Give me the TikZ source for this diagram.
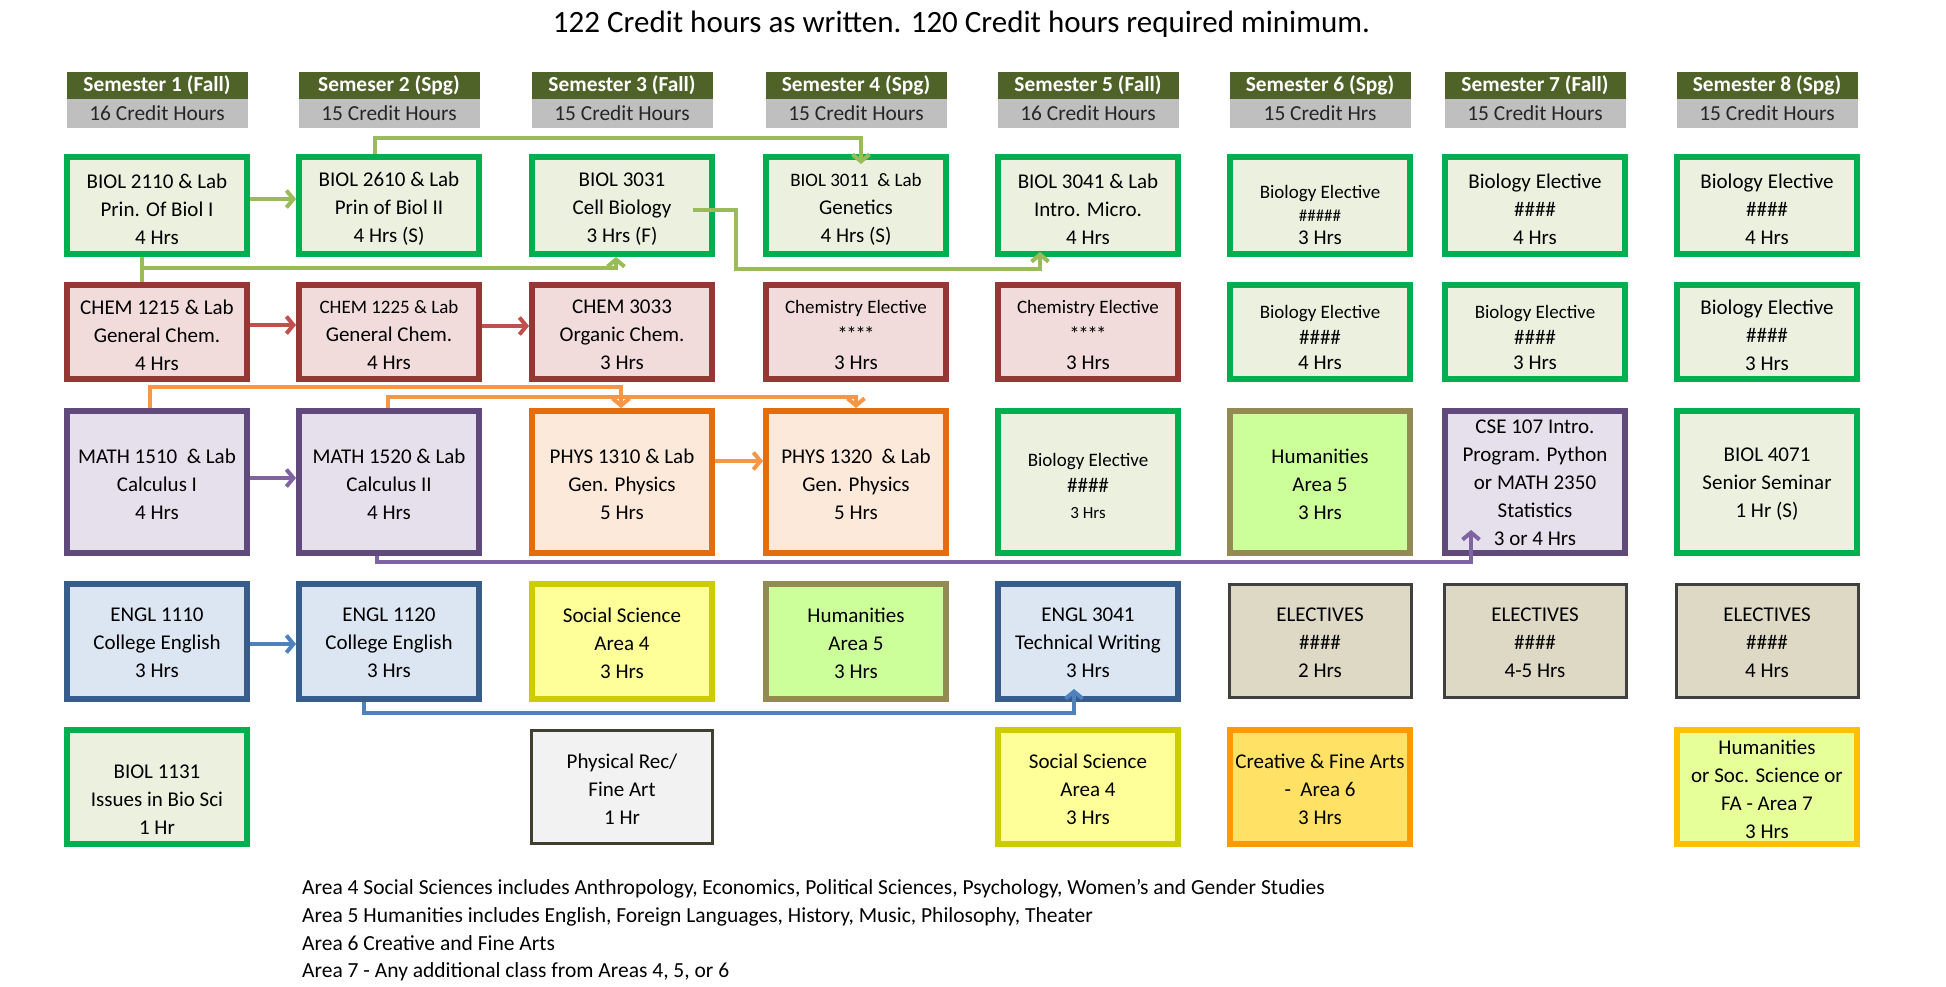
\documentclass[tikz,border=0pt]{standalone}
\usepackage{fontspec}
\setmainfont{Carlito}
\usetikzlibrary{arrows.meta,calc}
\definecolor{hdrD}{HTML}{4F6228}
\definecolor{hdrG}{HTML}{BFBFBF}
\definecolor{bioB}{HTML}{00B050}\definecolor{bioF}{HTML}{EBF1DE}
\definecolor{chemB}{HTML}{953735}\definecolor{chemF}{HTML}{F2DCDB}
\definecolor{mathB}{HTML}{604A7B}\definecolor{mathF}{HTML}{E6E0EC}
\definecolor{physB}{HTML}{E46C0A}\definecolor{physF}{HTML}{FDE9D9}
\definecolor{englB}{HTML}{385D8A}\definecolor{englF}{HTML}{DCE6F2}
\definecolor{socB}{HTML}{CCCC00}\definecolor{socF}{HTML}{FFFF99}
\definecolor{humB}{HTML}{948A54}\definecolor{humF}{HTML}{CCFF99}
\definecolor{elecB}{HTML}{404040}\definecolor{elecF}{HTML}{DDD9C4}
\definecolor{recB}{HTML}{403F30}\definecolor{recF}{HTML}{F2F2F2}
\definecolor{creaB}{HTML}{FF9900}\definecolor{creaF}{HTML}{FFE265}
\definecolor{hsB}{HTML}{FFC000}\definecolor{hsF}{HTML}{E6FF99}
\definecolor{arG}{HTML}{9BBB59}\definecolor{arR}{HTML}{C0504D}
\definecolor{arP}{HTML}{8064A2}\definecolor{arO}{HTML}{F79646}
\definecolor{arB}{HTML}{4F81BD}
\newcommand\crs[8]{%
  \node[#2,minimum width=#5pt,minimum height=#6pt] (#1) at (#3,#4) {};
  \node[txt] (#1t) at ($(#1.center)+(0,#7)$) {#8};}
\newcommand\stars{*\kern-1.5pt*\kern-1.5pt*\kern-1.5pt*}
\begin{document}
\begin{tikzpicture}[x=1pt,y=-1pt,
  txt/.style={align=center,inner sep=0pt,font=\fontsize{21}{28}\selectfont,text=black},
  box/.style={rectangle,inner sep=0pt,line width=6pt},
  bio/.style={box,draw=bioB,fill=bioF},
  chem/.style={box,draw=chemB,fill=chemF},
  math/.style={box,draw=mathB,fill=mathF},
  phys/.style={box,draw=physB,fill=physF},
  engl/.style={box,draw=englB,fill=englF},
  soc/.style={box,draw=socB,fill=socF},
  hum/.style={box,draw=humB,fill=humF},
  elec/.style={box,draw=elecB,fill=elecF,line width=3pt},
  rec/.style={box,draw=recB,fill=recF,line width=3pt},
  crea/.style={box,draw=creaB,fill=creaF},
  hsa/.style={box,draw=hsB,fill=hsF},
  hdrA/.style={rectangle,inner sep=0pt,fill=hdrD,text=white,minimum width=181pt,minimum height=27pt,font=\bfseries\fontsize{21.4}{24}\selectfont},
  hdrB/.style={rectangle,inner sep=0pt,fill=hdrG,text=black!85,minimum width=181pt,minimum height=29pt,font=\fontsize{21.4}{24}\selectfont},
  conn/.style={line width=4pt,-{Straight Barb[length=7pt,width=17pt,line width=4pt]}},
  plain/.style={line width=4pt}]
\useasboundingbox (0,0) rectangle (1946,987);
\fill[white] (0,0) rectangle (1946,987);
% title
\node[inner sep=0pt,font=\fontsize{31}{36}\selectfont] (title) at (961.5,24) {122 Credit hours as written. 120 Credit hours required minimum.};
% headers
\foreach \n/\x/\a/\b in {1/157/Semester 1 (Fall)/16 Credit Hours,2/389/Semeser 2 (Spg)/15 Credit Hours,3/622/Semester 3 (Fall)/15 Credit Hours,4/856/Semester 4 (Spg)/15 Credit Hours,5/1088/Semester 5 (Fall)/16 Credit Hours,6/1320/Semester 6 (Spg)/15 Credit Hrs,7/1535/Semester 7 (Fall)/15 Credit Hours,8/1767/Semester 8 (Spg)/15 Credit Hours}{
  \node[hdrA] (h\n) at (\x,85.5) {\a};
  \node[hdrB] (g\n) at (\x,113.5) {\b};
}
% row 1
\crs{b2110}{bio}{157}{205.5}{180}{97}{3.5}{BIOL 2110 \& Lab\\Prin. Of Biol I\\4 Hrs}
\crs{b2610}{bio}{389}{205.5}{180}{97}{3.5}{BIOL 2610 \& Lab\\Prin of Biol II\\4 Hrs (S)}
\crs{b3031}{bio}{622}{205.5}{180}{97}{3.5}{BIOL 3031\\Cell Biology\\3 Hrs (F)}
\crs{b3011}{bio}{856}{205.5}{180}{97}{3.5}{{\fontsize{19}{28}\selectfont BIOL 3011\ \ \& Lab}\\Genetics\\4 Hrs (S)}
\crs{b3041}{bio}{1088}{205.5}{180}{97}{3.5}{BIOL 3041 \& Lab\\Intro. Micro.\\4 Hrs}
\crs{be61}{bio}{1320}{205.5}{180}{97}{9.5}{\fontsize{19}{28}\selectfont Biology Elective\\[-5pt]\fontsize{17}{28}\selectfont\#\#\#\#\#\\[-5pt]3 Hrs}
\crs{be71}{bio}{1535}{205.5}{180}{97}{3.5}{Biology Elective\\\#\#\#\#\\4 Hrs}
\crs{be81}{bio}{1767}{205.5}{180}{97}{3.5}{Biology Elective\\\#\#\#\#\\4 Hrs}
% row 2
\crs{c1215}{chem}{157}{332}{180}{94}{3}{CHEM 1215 \& Lab\\General Chem.\\4 Hrs}
\crs{c1225}{chem}{389}{332}{180}{94}{3}{{\fontsize{19}{28}\selectfont CHEM 1225 \& Lab}\\General Chem.\\4 Hrs}
\crs{c3033}{chem}{622}{332}{180}{94}{3}{CHEM 3033\\Organic Chem.\\3 Hrs}
\crs{ce4}{chem}{856}{332}{180}{94}{3}{{\fontsize{19}{28}\selectfont Chemistry Elective}\\\stars\\3 Hrs}
\crs{ce5}{chem}{1088}{332}{180}{94}{3}{{\fontsize{19}{28}\selectfont Chemistry Elective}\\\stars\\3 Hrs}
\crs{be62}{bio}{1320}{332}{180}{94}{5.5}{\fontsize{19}{28}\selectfont Biology Elective\\[-2.5pt]\#\#\#\#\\[-2.5pt]4 Hrs}
\crs{be72}{bio}{1535}{332}{180}{94}{5.5}{\fontsize{19}{28}\selectfont Biology Elective\\[-2.5pt]\#\#\#\#\\[-2.5pt]3 Hrs}
\crs{be82}{bio}{1767}{332}{180}{94}{3}{Biology Elective\\\#\#\#\#\\3 Hrs}
% row 3
\crs{m1510}{math}{157}{482}{180}{142}{2}{MATH 1510\ \ \& Lab\\Calculus I\\4 Hrs}
\crs{m1520}{math}{389}{482}{180}{142}{2}{MATH 1520 \& Lab\\Calculus II\\4 Hrs}
\crs{p1310}{phys}{622}{482}{180}{142}{2}{PHYS 1310 \& Lab\\Gen. Physics\\5 Hrs}
\crs{p1320}{phys}{856}{482}{180}{142}{2}{PHYS 1320\ \ \& Lab\\Gen. Physics\\5 Hrs}
\crs{be53}{bio}{1088}{482}{180}{142}{4}{\fontsize{19}{28}\selectfont Biology Elective\\[-2pt]\fontsize{21}{28}\selectfont\#\#\#\#\\[-2pt]\fontsize{17}{28}\selectfont 3 Hrs}
\crs{hum6}{hum}{1320}{482}{180}{142}{2}{Humanities\\Area 5\\3 Hrs}
\crs{cse}{math}{1535}{482}{180}{142}{1}{CSE 107 Intro.\\Program. Python\\or MATH 2350\\Statistics\\3 or 4 Hrs}
\crs{b4071}{bio}{1767}{482}{180}{142}{2}{BIOL 4071\\Senior Seminar\\1 Hr (S)}
% row 4
\crs{e1110}{engl}{157}{641.5}{180}{115}{1.5}{ENGL 1110\\College English\\3 Hrs}
\crs{e1120}{engl}{389}{641.5}{180}{115}{1.5}{ENGL 1120\\College English\\3 Hrs}
\crs{soc3}{soc}{622}{641.5}{180}{115}{1.5}{Social Science\\Area 4\\3 Hrs}
\crs{hum4}{hum}{856}{641.5}{180}{115}{1.5}{Humanities\\Area 5\\3 Hrs}
\crs{e3041}{engl}{1088}{641.5}{180}{115}{1.5}{ENGL 3041\\Technical Writing\\3 Hrs}
\crs{el6}{elec}{1320}{641}{182}{113}{2}{ELECTIVES\\\#\#\#\#\\2 Hrs}
\crs{el7}{elec}{1535}{641}{182}{113}{2}{ELECTIVES\\\#\#\#\#\\4-5 Hrs}
\crs{el8}{elec}{1767}{641}{182}{113}{2}{ELECTIVES\\\#\#\#\#\\4 Hrs}
% row 5
\crs{b1131}{bio}{157}{787}{180}{114}{13}{BIOL 1131\\Issues in Bio Sci\\1 Hr}
\crs{rec}{rec}{622}{787}{181}{113}{2}{Physical Rec/\\Fine Art\\1 Hr}
\crs{soc5}{soc}{1088}{787}{180}{114}{2}{Social Science\\Area 4\\3 Hrs}
\crs{art6}{crea}{1320}{787}{180}{114}{2}{Creative \& Fine Arts\\-\ \ Area 6\\3 Hrs}
\crs{hs8}{hsa}{1767}{787}{180}{114}{2}{Humanities\\or Soc. Science or\\FA - Area 7\\3 Hrs}
% legend
\node[anchor=west,align=left,inner sep=0pt,font=\fontsize{21.5}{27.7}\selectfont] (legend) at (302,930.5)
 {Area 4 Social Sciences includes Anthropology, Economics, Political Sciences, Psychology, Women's and Gender Studies\\
  Area 5 Humanities includes English, Foreign Languages, History, Music, Philosophy, Theater\\
  Area 6 Creative and Fine Arts\\
  Area 7 - Any additional class from Areas 4, 5, or 6};
% connectors: green
\draw[conn,arG] ([yshift=6.5pt]b2110.east) -- ([yshift=6.5pt]b2610.west);
\draw[conn,arG] ([xshift=-14pt]b2610.north) -- ++(0,-16) -| ([xshift=5pt,yshift=-10pt]b3011.north);
\draw[plain,arG] ([xshift=-15pt]b2110.south) -- ([xshift=-15pt]c1215.north);
\draw[conn,arG] ([xshift=-15pt]b2110.south) -- ++(0,11) -| ([xshift=-6pt]b3031.south);
\draw[conn,arG] ([xshift=-22pt,yshift=-4.5pt]b3031.east) -- ++(43,0) -- ++(0,59) -| ([xshift=-48pt,yshift=5pt]b3041.south);
% red
\draw[conn,arR] ([yshift=7pt]c1215.east) -- ([yshift=7pt]c1225.west);
\draw[conn,arR] ([yshift=6pt]c1225.east) -- ([yshift=6pt]c3033.west);
% purple
\draw[conn,arP] ([yshift=4pt]m1510.east) -- ([yshift=4pt]m1520.west);
\draw[conn,arP] ([xshift=-12pt]m1520.south) -- ++(0,6) -| ([xshift=-64pt,yshift=26pt]cse.south);
% orange
\draw[conn,arO] ([xshift=-7pt]m1510.north) -- ++(0,-21) -| ([xshift=-1pt]p1310.north);
\draw[conn,arO] ([xshift=-1pt]m1520.north) -- ++(0,-11) -| (p1320.north);
\draw[conn,arO] ([yshift=21pt]p1310.east) -- ([yshift=21pt]p1320.west);
% blue
\draw[conn,arB] ([yshift=-2.5pt]e1110.east) -- ([yshift=-2.5pt]e1120.west);
\draw[conn,arB] ([xshift=-25pt]e1120.south) -- ++(0,11) -| ([xshift=-14pt,yshift=13pt]e3041.south);
\end{tikzpicture}
\end{document}
